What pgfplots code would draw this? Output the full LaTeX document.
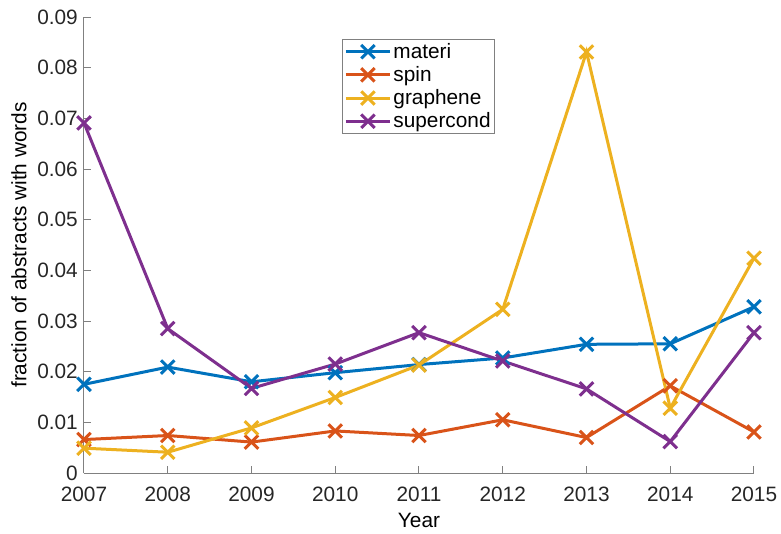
\documentclass[border=0pt]{standalone}
\usepackage{fontspec}
\setmainfont{Liberation Sans}
\usepackage{pgfplots}
\pgfplotsset{compat=1.18}

\definecolor{mblue}{rgb}{0,0.447,0.741}
\definecolor{morange}{rgb}{0.850,0.325,0.098}
\definecolor{myellow}{rgb}{0.929,0.694,0.125}
\definecolor{mpurple}{rgb}{0.494,0.184,0.556}
\definecolor{txt}{HTML}{262626}

\begin{document}
\begin{tikzpicture}
\begin{axis}[
  scale only axis,
  width=670pt, height=456pt,
  xmin=2007, xmax=2015, ymin=0, ymax=0.09,
  axis x line=bottom, axis y line=left,
  axis line style={-, gray, line width=1pt},
  tick align=inside,
  major tick length=7pt,
  tick style={gray, line width=1pt},
  xtick={2007,2008,...,2015},
  ytick={0,0.01,...,0.09},
  scaled y ticks=false,
  x tick label style={/pgf/number format/set thousands separator={}, /pgf/number format/fixed, inner sep=0pt, yshift=-14pt},
  y tick label style={/pgf/number format/fixed, /pgf/number format/precision=2, inner sep=0pt, xshift=-6pt},
  /pgf/number format/assume math mode=true,
  font=\fontsize{20.8}{24}\selectfont,
  tick label style={text=txt},
  label style={text=txt},
  xlabel={Year},
  ylabel={fraction of abstracts with words},
  every axis x label/.style={at={(axis description cs:0.5,-0.105)}, anchor=center},
  every axis y label/.style={at={(axis description cs:-0.097,0.5)}, rotate=90, anchor=center},
  legend style={at={(axis description cs:0.385,0.952)}, anchor=north west,
    draw=gray, line width=1pt, font=\fontsize{20.8}{24}\selectfont, text=black,
    row sep=2.6pt, inner sep=2pt},
  legend cell align=left,
  legend image code/.code={\draw[mark repeat=2,mark phase=2] plot coordinates {(0pt,0pt)(22pt,0pt)(44pt,0pt)};},
  every axis plot/.append style={line width=3pt, mark=x, mark size=9.5pt, mark options={line width=3pt}},
  clip=false,
]
\addplot[mblue] coordinates {(2007,0.0175) (2008,0.0209) (2009,0.0180) (2010,0.0198) (2011,0.0214) (2012,0.0227) (2013,0.0254) (2014,0.0255) (2015,0.0328)};
\addplot[morange] coordinates {(2007,0.0066) (2008,0.0074) (2009,0.0061) (2010,0.0083) (2011,0.0074) (2012,0.0105) (2013,0.0070) (2014,0.0172) (2015,0.0081)};
\addplot[myellow] coordinates {(2007,0.0049) (2008,0.0041) (2009,0.0089) (2010,0.0149) (2011,0.0213) (2012,0.0323) (2013,0.0831) (2014,0.0128) (2015,0.0424)};
\addplot[mpurple] coordinates {(2007,0.0691) (2008,0.0285) (2009,0.0167) (2010,0.0215) (2011,0.0277) (2012,0.0221) (2013,0.0166) (2014,0.0062) (2015,0.0277)};
\legend{materi,spin,graphene,supercond}
\coordinate (ll) at (rel axis cs:0,0);
\end{axis}
\path (ll) ++(-84pt,-60pt) rectangle ++(781pt,533pt);
\end{tikzpicture}
\end{document}
